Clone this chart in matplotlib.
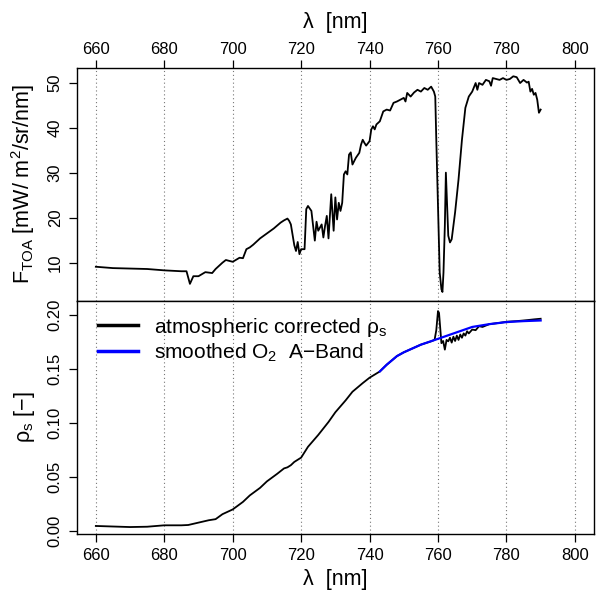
import matplotlib
matplotlib.use("Agg")
import matplotlib.pyplot as plt
import numpy as np

plt.rcParams['font.family'] = ['Liberation Sans', 'DejaVu Sans']
plt.rcParams['mathtext.fontset'] = 'custom'
plt.rcParams['mathtext.rm'] = 'Liberation Sans'
plt.rcParams['mathtext.it'] = 'Liberation Sans:italic'

# top of atmosphere radiance
wl_toa = [660, 665, 670, 675, 680, 685, 686.5, 687.5, 688.5, 690, 692, 694, 695, 697, 698,
          700, 702, 703, 704, 705, 706, 708, 710, 712, 714, 715, 716, 716.5, 717, 718,
          718.5, 719, 719.5, 720, 721, 721.5, 722, 723, 724, 724.5, 725, 726, 726.5, 727,
          727.5, 728, 728.8, 729.5, 730, 730.5, 731, 731.5, 732, 732.5, 733, 733.5, 734,
          734.5, 735, 736, 737, 737.5, 738, 738.5, 739, 740, 740.5, 741, 741.5, 742, 743,
          744, 745, 746, 747, 748, 749, 750, 750.5, 751, 752, 753, 754, 755, 756, 757, 758,
          758.8, 759.2, 759.5, 760, 760.5, 761, 761.3, 761.6, 762, 762.3, 762.6, 763, 763.5,
          764, 765, 766, 767, 768, 769, 770, 771, 771.5, 772, 773, 774, 775, 775.5, 776,
          777, 778, 779, 780, 781, 782, 783, 784, 785, 786, 786.5, 787, 787.5, 788, 788.5,
          789, 789.5, 790]
f_toa = [9.2, 8.9, 8.8, 8.7, 8.4, 8.2, 8.2, 5.4, 7.1, 7.1, 8.0, 7.8, 8.7, 10.1, 10.7,
         10.3, 11.2, 11.1, 13.1, 13.5, 14.1, 15.5, 16.6, 17.7, 19.0, 19.5, 19.9, 19.4, 18.6, 14.0,
         12.7, 14.7, 12.0, 13.1, 13.1, 22.0, 22.7, 21.6, 15.0, 19.2, 17.2, 18.6, 15.7, 18.3,
         20.5, 15.5, 25.3, 17.2, 24.6, 19.7, 23.4, 21.6, 23.4, 29.7, 30.4, 29.7, 34.1,
         34.6, 31.9, 33.4, 34.5, 36.3, 37.4, 36.7, 36.1, 37.1, 39.7, 40.4, 39.7, 40.8, 41.5,
         43.7, 44.1, 43.9, 45.6, 45.9, 46.3, 46.7, 45.9, 47.8, 47.0, 47.9, 48.5, 48.1, 48.9, 48.5, 49.2,
         48.1, 47.0, 37.4, 22.7, 7.9, 4.2, 3.6, 7.9, 18.3, 30.1, 24.2, 16.1, 14.6,
         15.3, 21.3, 28.6, 37.4, 44.5, 47.0, 48.1, 50.0, 48.5, 50.0, 49.6, 50.7, 50.4, 49.4, 51.1,
         50.9, 50.7, 51.1, 50.7, 50.9, 51.5, 51.3, 50.0, 50.7, 50.1, 50.3, 48.1, 48.7, 47.4, 47.8,
         46.3, 43.4, 44.1]

# atmospheric corrected surface reflectance
wl_rho = [660, 665, 670, 675, 680, 685, 687, 690, 693, 695, 697, 700, 703, 705, 708, 710,
          713, 715, 716, 717, 718, 720, 722, 725, 728, 730, 733, 735, 738, 740, 743, 745,
          748, 750, 755, 758, 759, 759.5, 760, 760.3, 760.6, 761, 761.5, 762, 762.5, 763,
          763.5, 764, 764.5, 765, 765.5, 766, 766.5, 767, 767.5, 768, 768.5, 769, 770, 771,
          772, 773, 775, 778, 780, 783, 786, 788, 790]
rho = [0.0047, 0.0042, 0.0037, 0.0040, 0.0053, 0.0053, 0.0056, 0.0078, 0.0100, 0.0110,
       0.0156, 0.0200, 0.0270, 0.0330, 0.0400, 0.0460, 0.0530, 0.0580, 0.0590, 0.0610,
       0.0640, 0.0680, 0.0780, 0.0890, 0.1010, 0.1100, 0.1210, 0.1290, 0.1370, 0.1420,
       0.1478, 0.1540, 0.1620, 0.1655, 0.1726, 0.1757, 0.1770, 0.1860, 0.2037, 0.2020,
       0.1900, 0.1740, 0.1760, 0.1680, 0.1770, 0.1757, 0.1790, 0.1745, 0.1800, 0.1760,
       0.1810, 0.1770, 0.1820, 0.1790, 0.1830, 0.1810, 0.1850, 0.1830, 0.1866, 0.1860,
       0.1897, 0.1890, 0.1916, 0.1928, 0.1938, 0.1944, 0.1953, 0.1960, 0.1966]

# smoothed O2 A-band
wl_smooth = [743, 745, 748, 750, 755, 760, 765, 770, 775, 780, 785, 790]
rho_smooth = [0.1478, 0.1540, 0.1620, 0.1655, 0.1726, 0.1780, 0.1835, 0.1890, 0.1916,
              0.1935, 0.1944, 0.1950]

xticks = [660, 680, 700, 720, 740, 760, 780, 800]

fig = plt.figure(figsize=(5.99, 5.92), dpi=100)
ax1 = fig.add_axes([0.128, 0.4916, 0.8637, 0.394])
ax2 = fig.add_axes([0.128, 0.0975, 0.8637, 0.394])

xlim = (660 - 0.04 * 140, 800 + 0.04 * 140)

for ax in (ax1, ax2):
    ax.set_xlim(*xlim)
    ax.set_xticks(xticks)
    for x in xticks:
        ax.axvline(x, color='#777777', lw=0.8, ls=(0, (1, 2.5)), zorder=0)
    for s in ax.spines.values():
        s.set_linewidth(1.0)
    ax.tick_params(labelsize=12, length=6, width=0.9, direction='out', pad=4)

ax1.plot(wl_toa, f_toa, color='black', lw=1.3)
ax1.set_ylim(1.6, 53.4)
ax1.set_yticks([10, 20, 30, 40, 50])
ax1.xaxis.tick_top()
ax1.xaxis.set_label_position('top')
ax1.tick_params(axis='x', pad=1.5)
ax1.set_xlabel('λ  [nm]', fontsize=15.5, labelpad=10)
ax1.set_ylabel(r'F$\mathregular{_{TOA}}$ [mW/ m$\mathregular{^2}$/sr/nm]', fontsize=15.5, labelpad=8)
for lab in ax1.get_yticklabels():
    lab.set_rotation(90)
    lab.set_va('center')

ax2.plot(wl_rho, rho, color='black', lw=1.3, label=r'atmospheric corrected ρ$\mathregular{_s}$')
ax2.plot(wl_smooth, rho_smooth, color='#0000ff', lw=1.6, label=r'smoothed O$\mathregular{_2}$  A$-$Band')
ax2.set_ylim(-0.003, 0.213)
ax2.set_yticks([0.0, 0.05, 0.10, 0.15, 0.20])
ax2.set_yticklabels(['0.00', '0.05', '0.10', '0.15', '0.20'])
ax2.set_xlabel('λ  [nm]', fontsize=15.5, labelpad=4)
ax2.set_ylabel(r'ρ$\mathregular{_s}$ [$-$]', fontsize=15.5, labelpad=8)
for lab in ax2.get_yticklabels():
    lab.set_rotation(90)
    lab.set_va('center')
leg = ax2.legend(loc='upper left', frameon=False, fontsize=15, handlelength=1.9,
                 handletextpad=0.75, labelspacing=0.15, borderaxespad=0.3,
                 bbox_to_anchor=(0.014, 1.0))
for line in leg.get_lines():
    line.set_linewidth(2.5)

fig.savefig('out.png', dpi=100)
